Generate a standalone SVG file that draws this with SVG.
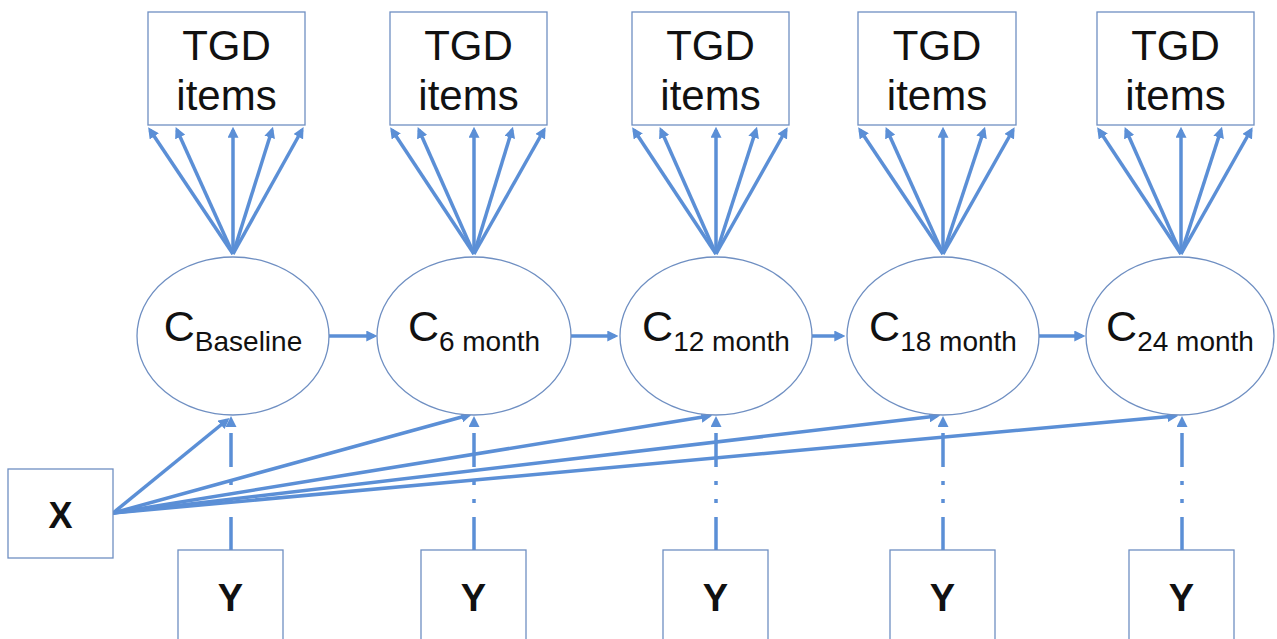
<svg xmlns="http://www.w3.org/2000/svg" width="1277" height="639" viewBox="0 0 1277 639">
<style>
.box{fill:#fff;stroke:#6f8fc2;stroke-width:1.3}
.ell{fill:#fff;stroke:#6f8fc2;stroke-width:1.3}
.c{fill:none;stroke:#5b8fd6;stroke-width:3.5}
.a{marker-end:url(#tip)}
.d{marker-end:url(#base);stroke-dasharray:34 14 4 14 4 14 34 6}
.t{font-family:"Liberation Sans",Arial,sans-serif;fill:#111;text-anchor:middle}
.big{font-size:42px}
.cl{font-size:43px}
.sub{font-size:28px}
.bx{font-size:36px;font-weight:bold}
.by{font-size:38px;font-weight:bold}
</style>
<defs>
<marker id="tip" viewBox="0 0 10 10" refX="7" refY="5" markerWidth="11" markerHeight="11" markerUnits="userSpaceOnUse" orient="auto"><path d="M0,0 L10,5 L0,10 z" fill="#5b8fd6"/></marker>
<marker id="base" viewBox="0 0 10 10" refX="0" refY="5" markerWidth="11" markerHeight="11" markerUnits="userSpaceOnUse" orient="auto"><path d="M0,0 L10,5 L0,10 z" fill="#5b8fd6"/></marker>
</defs>
<rect width="1277" height="639" fill="#fff"/>

<g id="connectors">
<!-- fans -->
<g class="c a">
<line x1="233" y1="254" x2="150" y2="130"/><line x1="233" y1="254" x2="177" y2="130"/><line x1="233" y1="254" x2="233" y2="130"/><line x1="233" y1="254" x2="272" y2="130"/><line x1="233" y1="254" x2="302" y2="130"/>
<line x1="474" y1="254" x2="392" y2="130"/><line x1="474" y1="254" x2="419" y2="130"/><line x1="474" y1="254" x2="474" y2="130"/><line x1="474" y1="254" x2="512" y2="130"/><line x1="474" y1="254" x2="544" y2="130"/>
<line x1="716" y1="254" x2="634" y2="130"/><line x1="716" y1="254" x2="661" y2="130"/><line x1="716" y1="254" x2="716" y2="130"/><line x1="716" y1="254" x2="756" y2="130"/><line x1="716" y1="254" x2="786" y2="130"/>
<line x1="943" y1="254" x2="860" y2="130"/><line x1="943" y1="254" x2="887" y2="130"/><line x1="943" y1="254" x2="943" y2="130"/><line x1="943" y1="254" x2="984" y2="130"/><line x1="943" y1="254" x2="1013" y2="130"/>
<line x1="1181" y1="254" x2="1099" y2="130"/><line x1="1181" y1="254" x2="1126" y2="130"/><line x1="1181" y1="254" x2="1181" y2="130"/><line x1="1181" y1="254" x2="1221" y2="130"/><line x1="1181" y1="254" x2="1251" y2="130"/>
</g>
<!-- horizontal -->
<g class="c a">
<line x1="329" y1="336" x2="374" y2="336"/>
<line x1="571" y1="336" x2="615" y2="336"/>
<line x1="812" y1="336" x2="842" y2="336"/>
<line x1="1039" y1="336" x2="1082" y2="336"/>
</g>
<!-- Y dashed -->
<g class="c d">
<line x1="231" y1="551" x2="231" y2="427"/>
<line x1="474" y1="551" x2="474" y2="427"/>
<line x1="716" y1="551" x2="716" y2="427"/>
<line x1="943" y1="551" x2="943" y2="427"/>
<line x1="1182" y1="551" x2="1182" y2="427"/>
</g>
<!-- X arrows -->
<g class="c a">
<line x1="113" y1="513" x2="227" y2="420"/>
<line x1="113" y1="513" x2="469" y2="415"/>
<line x1="113" y1="513" x2="709" y2="416"/>
<line x1="113" y1="513" x2="937" y2="416"/>
<line x1="113" y1="513" x2="1175" y2="416"/>
</g>
</g>

<g id="tgd1"><rect class="box" x="148" y="12" width="157" height="113"/><text class="t big" x="226.5" y="60">TGD</text><text class="t big" x="226.5" y="110">items</text></g>
<g id="tgd2"><rect class="box" x="390" y="12" width="157" height="113"/><text class="t big" x="468.5" y="60">TGD</text><text class="t big" x="468.5" y="110">items</text></g>
<g id="tgd3"><rect class="box" x="632" y="12" width="157" height="113"/><text class="t big" x="710.5" y="60">TGD</text><text class="t big" x="710.5" y="110">items</text></g>
<g id="tgd4"><rect class="box" x="858" y="12" width="158" height="113"/><text class="t big" x="937" y="60">TGD</text><text class="t big" x="937" y="110">items</text></g>
<g id="tgd5"><rect class="box" x="1097" y="12" width="157" height="113"/><text class="t big" x="1175.5" y="60">TGD</text><text class="t big" x="1175.5" y="110">items</text></g>

<g id="cBaseline"><ellipse class="ell" cx="233" cy="336" rx="96" ry="79"/><text class="t" x="233" y="341"><tspan class="cl">C</tspan><tspan class="sub" dy="10">Baseline</tspan></text></g>
<g id="c6"><ellipse class="ell" cx="474" cy="336" rx="97" ry="79"/><text class="t" x="474" y="341"><tspan class="cl">C</tspan><tspan class="sub" dy="10">6 month</tspan></text></g>
<g id="c12"><ellipse class="ell" cx="716" cy="336" rx="96" ry="79"/><text class="t" x="716" y="341"><tspan class="cl">C</tspan><tspan class="sub" dy="10">12 month</tspan></text></g>
<g id="c18"><ellipse class="ell" cx="943" cy="336" rx="96" ry="79"/><text class="t" x="943" y="341"><tspan class="cl">C</tspan><tspan class="sub" dy="10">18 month</tspan></text></g>
<g id="c24"><ellipse class="ell" cx="1180" cy="336" rx="94" ry="79"/><text class="t" x="1180" y="341"><tspan class="cl">C</tspan><tspan class="sub" dy="10">24 month</tspan></text></g>

<g id="x"><rect class="box" x="8" y="469" width="105" height="89"/><text class="t bx" x="60.5" y="528">X</text></g>
<g id="y1"><rect class="box" x="178" y="550" width="105" height="100"/><text class="t by" x="230.5" y="611">Y</text></g>
<g id="y2"><rect class="box" x="421" y="550" width="105" height="100"/><text class="t by" x="473.5" y="611">Y</text></g>
<g id="y3"><rect class="box" x="663" y="550" width="105" height="100"/><text class="t by" x="715.5" y="611">Y</text></g>
<g id="y4"><rect class="box" x="890" y="550" width="105" height="100"/><text class="t by" x="942.5" y="611">Y</text></g>
<g id="y5"><rect class="box" x="1129" y="550" width="105" height="100"/><text class="t by" x="1181.5" y="611">Y</text></g>
</svg>
